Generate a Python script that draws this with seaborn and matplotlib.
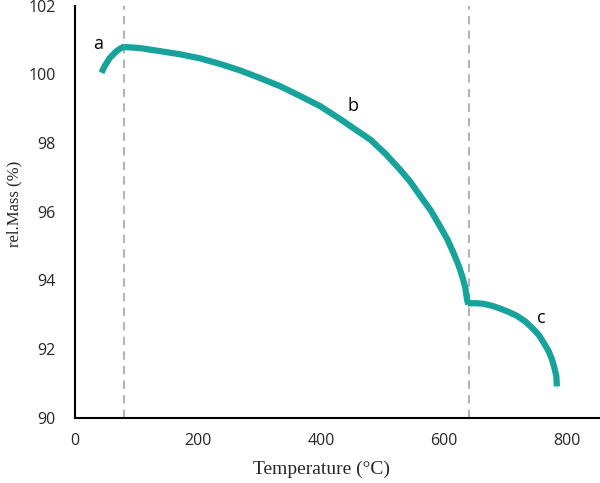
import pandas as pd
import numpy as np
import matplotlib
matplotlib.use("Agg")
import matplotlib.pyplot as plt
import seaborn as sns

# Data (segments a, b, c)
temp_a = [43, 47, 51.5, 56, 62, 67, 73, 78.5, 80]
mass_a = [100.05, 100.2, 100.34, 100.47, 100.58, 100.67, 100.75, 100.8, 100.8]

temp_b = [80, 105, 138, 170, 203, 235, 268, 300, 333, 365, 398, 431, 452, 480,
          505, 528, 545, 561, 578, 593, 605, 615, 623, 629, 634, 637, 639]
mass_b = [100.8, 100.77, 100.68, 100.59, 100.47, 100.31, 100.12, 99.9, 99.66,
          99.38, 99.08, 98.70, 98.44, 98.1, 97.68, 97.23, 96.87, 96.46, 96.04,
          95.58, 95.2, 94.8, 94.45, 94.13, 93.8, 93.45, 93.3]

temp_c = [638, 650, 664, 678, 691, 705, 718, 732, 745, 754, 761, 769, 775, 779,
          782, 783, 783]
mass_c = [93.33, 93.34, 93.32, 93.26, 93.18, 93.08, 92.97, 92.8, 92.58, 92.4,
          92.2, 91.96, 91.7, 91.45, 91.22, 91.0, 90.83]

step_temps = [80, 640]
labels = ["a", "b", "c"]
label_x = [37, 452, 757]
label_y = [100.9, 99.08, 92.9]

xticks = [0, 200, 400, 600, 800]
yticks = [90, 92, 94, 96, 98, 100, 102]

sns.set_style("white")
plt.rcParams["font.family"] = ["Open Sans", "DejaVu Sans"]

fig = plt.figure(figsize=(6, 4.83), dpi=100)
ax = fig.add_axes([0.125, 0.135, 0.875, 0.853])

teal = "#17a29c"
for t, m in [(temp_a, mass_a), (temp_b, mass_b), (temp_c, mass_c)]:
    df = pd.DataFrame({"Temperature": t, "Mass": m})
    sns.lineplot(data=df, x="Temperature", y="Mass", ax=ax, color=teal,
                 linewidth=4.5, sort=False, solid_capstyle="butt",
                 solid_joinstyle="round")

# dashed markers at the step boundaries
for s in step_temps:
    ax.axvline(s, color="#b4b4b4", linestyle=(0, (4, 3)), linewidth=1.5, zorder=0)

for lab, lx, ly in zip(labels, label_x, label_y):
    ax.text(lx, ly, lab, fontsize=13, ha="center", va="center", color="black")

ax.set_xlim(0, 853)
ax.set_ylim(90, 102)
ax.set_xticks(xticks)
ax.set_yticks(yticks)
ax.tick_params(axis="both", length=0, labelsize=11.5)
ax.tick_params(axis="y", pad=14)
ax.tick_params(axis="x", pad=11)

ax.set_xlabel("Temperature (°C)", family="Liberation Serif", fontsize=14)
ax.set_ylabel("rel.Mass (%)", family="Liberation Serif", fontsize=12)
ax.xaxis.set_label_coords(0.469, -0.105)
ax.yaxis.set_label_coords(-0.1, 0.519)

for side in ["top", "right"]:
    ax.spines[side].set_visible(False)
for side in ["left", "bottom"]:
    ax.spines[side].set_color("black")
    ax.spines[side].set_linewidth(1.5)

fig.savefig("out.png", dpi=100)
